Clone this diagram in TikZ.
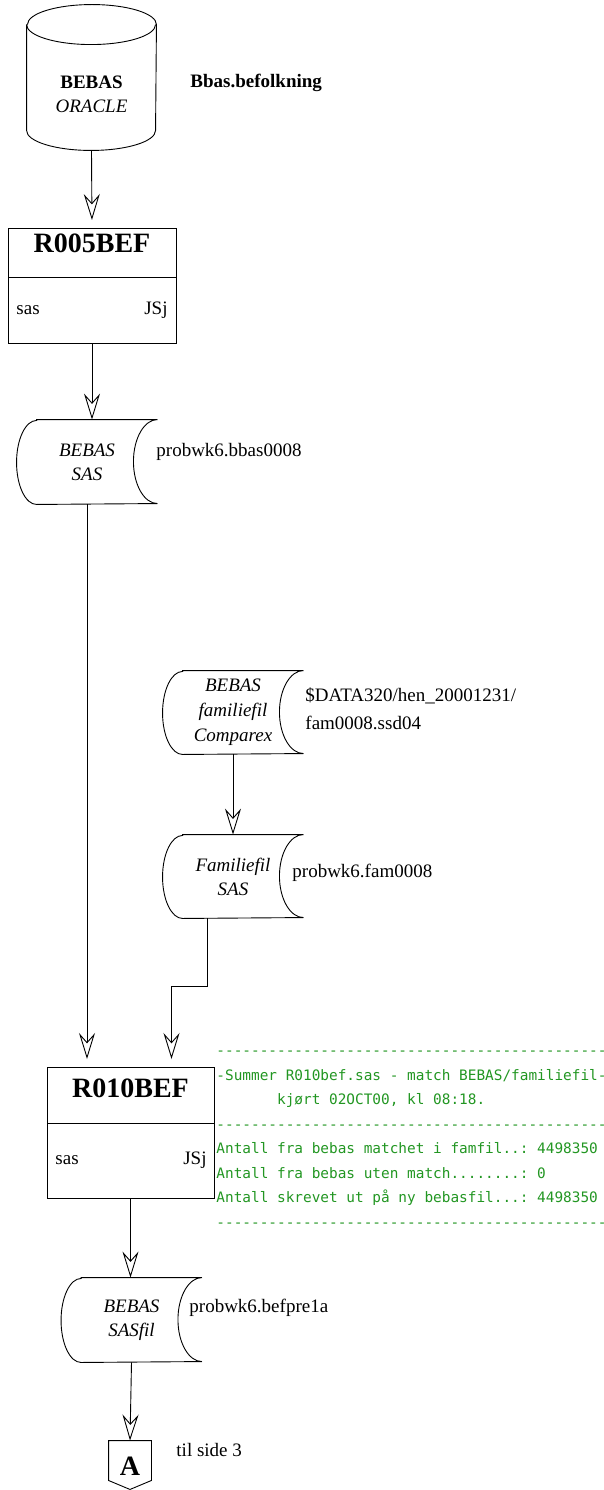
\documentclass[tikz,border=0pt]{standalone}
\usepackage{fontspec}
\setmainfont{Liberation Serif}
\setmonofont{DejaVu Sans Mono}
\usetikzlibrary{arrows.meta,positioning}

\definecolor{logtxt}{RGB}{34,150,34}

% storage symbol round a node: name, half height, left bulge, right hollow
\newcommand{\drawstore}[4]{%
  \draw ([xshift=#3]#1.north west) -- (#1.north east)
    arc[start angle=90, end angle=270, x radius=#4, y radius=#2]
    -- ([xshift=#3]#1.south west)
    arc[start angle=270, end angle=90, x radius=#3, y radius=#2] -- cycle;}

\begin{document}
\begin{tikzpicture}[x=1pt,y=1pt,>={Stealth[open,length=26pt,width=16pt,inset=9pt]},
    line width=0.9pt,
    every node/.style={inner sep=0pt, font=\fontsize{19}{24}\selectfont},
    store/.style={minimum width=140pt, minimum height=84pt, align=center,
                  font=\fontsize{19}{24}\selectfont\itshape},
    procbox/.style={draw, outer sep=0pt, minimum width=168pt},
    proctitle/.style={font=\fontsize{28}{32}\selectfont\bfseries},
    toproc/.style={->, shorten >=8pt},
    logtext/.style={align=left, text=logtxt, font=\fontsize{14.4}{24.5}\selectfont\ttfamily}]

\useasboundingbox (0,0) rectangle (604,-1490);

% BEBAS database
\node[minimum width=129pt, minimum height=145pt] (db) at (91.5,-77.5) {};
\draw ([yshift=-20pt]db.north west) -- ([yshift=20pt]db.south west)
    arc[start angle=180, end angle=360, x radius=64.5, y radius=20]
    -- ([yshift=-20pt]db.north east)
    arc[start angle=0, end angle=180, x radius=64.5, y radius=20];
\draw ([yshift=-20pt]db.north west) arc[start angle=180, end angle=360, x radius=64.5, y radius=20];
\node[align=center] (dbtxt) at (91.5,-94.5) {\textbf{BEBAS}\\ \textit{ORACLE}};
\node[anchor=west, font=\fontsize{19}{24}\selectfont\bfseries] (dblbl) at (190,-83) {Bbas.befolkning};

% R005BEF
\node[procbox, minimum height=49pt] (r005) at (92,-252.5) {};
\node[procbox, minimum height=66pt, below=0pt of r005] (r005b) {};
\node[proctitle] (r005t) at ([yshift=-15pt]r005.north) {R005BEF};
\node[anchor=west] (r005sas) at ([xshift=8pt]r005b.west) {sas};
\node[anchor=east] (r005sig) at ([xshift=-8pt]r005b.east) {JSj};

% BEBAS SAS
\node[store] (bsas) at (87,-462) {BEBAS\\SAS};
\drawstore{bsas}{42}{20}{24}
\node[anchor=west] (bsaslbl) at (156,-452) {probwk6.bbas0008};

% familiefil
\node[store, minimum height=83pt, font=\fontsize{19}{25}\selectfont\itshape] (famc) at (233,-712.5) {BEBAS\\familiefil\\Comparex};
\drawstore{famc}{41.5}{20}{24}
\node[anchor=west, align=left, font=\fontsize{19}{28}\selectfont] (famclbl) at (305,-709) {\$DATA320/hen\_20001231/\\fam0008.ssd04};

\node[store, minimum height=83pt] (fsas) at (233,-876.5) {Familiefil\\SAS};
\drawstore{fsas}{41.5}{20}{24}
\node[anchor=west] (fsaslbl) at (292,-873) {probwk6.fam0008};

% R010BEF
\node[procbox, minimum width=167pt, minimum height=56pt] (r010) at (130.5,-1095) {};
\node[procbox, minimum width=167pt, minimum height=75pt, below=0pt of r010] (r010b) {};
\node[proctitle] (r010t) at ([yshift=-21pt]r010.north) {R010BEF};
\node[anchor=west] (r010sas) at ([xshift=8pt]r010b.west) {sas};
\node[anchor=east] (r010sig) at ([xshift=-7pt]r010b.east) {JSj};

\node[logtext, anchor=north west] (log) at (216,-1038) {%
\strut---------------------------------------------\\
\strut-Summer R010bef.sas - match BEBAS/familiefil-\\
\strut\phantom{-------}kjørt 02OCT00, kl 08:18.\\
\strut---------------------------------------------\\
\strut Antall fra bebas matchet i famfil..: 4498350\\
\strut Antall fra bebas uten match........: 0\\
\strut Antall skrevet ut på ny bebasfil...: 4498350\\
\strut---------------------------------------------};

% BEBAS SASfil
\node[store] (bsasf) at (131.5,-1320) {BEBAS\\SASfil};
\drawstore{bsasf}{42}{20}{24}
\node[anchor=west] (bsasflbl) at (189,-1308) {probwk6.befpre1a};

% til side 3
\node[minimum width=42pt, minimum height=39pt] (conA) at (130,-1460.5) {};
\draw (conA.north west) -- (conA.north east) -- (conA.south east)
    -- ([yshift=-9pt]conA.south) -- (conA.south west) -- cycle;
\node[proctitle] (conAtxt) at ([yshift=-6pt]conA.center) {A};
\node[anchor=west] (conAlbl) at (176,-1450) {til side 3};

% flow
\coordinate (fjoin) at (171.5,-986);
\draw[toproc] (db.south) -- (r005.north);
\draw[->] (r005b.south) -- (r005b.south |- bsas.north);
\draw[toproc] (bsas.south) -- (bsas.south |- r010.north);
\draw[->] (famc.south) -- (fsas.north);
\draw[toproc] ([xshift=-26pt]fsas.south) |- (fjoin) -- (fjoin |- r010.north);
\draw[->] (r010b.south) -- (r010b.south |- bsasf.north);
\draw[->] (bsasf.south) -- (conA.north);

\end{tikzpicture}
\end{document}
